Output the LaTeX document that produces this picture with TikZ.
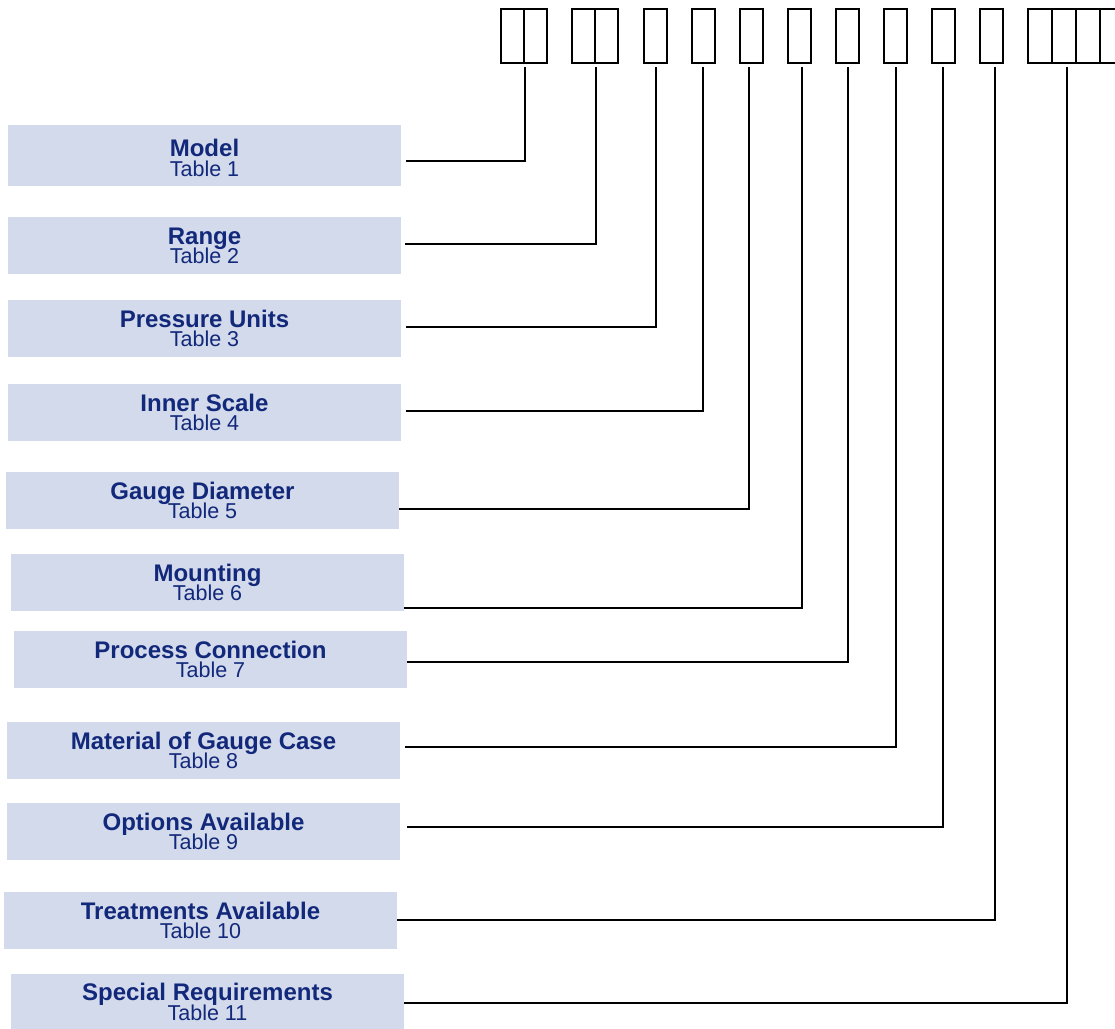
\documentclass[tikz,border=0pt]{standalone}
\usepackage{fontspec}
\setmainfont{Liberation Sans}
\definecolor{boxfill}{RGB}{211,218,235}
\definecolor{textblue}{RGB}{18,40,122}
\tikzstyle{field} = [rectangle, fill=boxfill, inner sep=0pt, minimum width=393pt, minimum height=57pt]
\tikzstyle{heading} = [anchor=base, inner sep=0pt, text=textblue, font=\fontsize{24}{24}\selectfont\bfseries]
\tikzstyle{tabref} = [anchor=base, inner sep=0pt, text=textblue, font=\fontsize{21.5}{21.5}\selectfont]
\tikzstyle{cell} = [rectangle, draw=black, line width=2pt, inner sep=0pt, minimum width=23pt, minimum height=54pt]
\tikzstyle{edge} = [line width=2pt, shorten >=3pt]

\begin{document}
\begin{tikzpicture}[x=1pt, y=-1pt]
\clip (0,0) rectangle (1115,1028);

% order code cells
\node (g1a) [cell] at (512,36) {};
\node (g1b) [cell] at (535,36) {};
\node (g2a) [cell] at (583.5,36) {};
\node (g2b) [cell] at (606.5,36) {};
\node (c3) [cell] at (655,36) {};
\node (c4) [cell] at (703,36) {};
\node (c5) [cell] at (751,36) {};
\node (c6) [cell] at (799,36) {};
\node (c7) [cell] at (847,36) {};
\node (c8) [cell] at (895,36) {};
\node (c9) [cell] at (943,36) {};
\node (c10) [cell] at (991,36) {};
\node (l1) [cell, minimum width=24pt] at (1040,36) {};
\node (l2) [cell, minimum width=24pt] at (1064,36) {};
\node (l3) [cell, minimum width=24pt] at (1088,36) {};
\node (l4) [cell, minimum width=24pt] at (1112,36) {};

% fields
\node (model) [field, minimum height=61pt] at (204.5,155.5) {};
\node (model-h) [heading] at ([yshift=-1pt]model.center) {Model};
\node (model-t) [tabref] at ([yshift=-20.5pt]model.center) {Table 1};
\node (range) [field] at (204.5,245.5) {};
\node (range-h) [heading] at ([yshift=1.5pt]range.center) {Range};
\node (range-t) [tabref] at ([yshift=-18pt]range.center) {Table 2};
\node (units) [field] at (204.5,328.5) {};
\node (units-h) [heading] at ([yshift=1.5pt]units.center) {Pressure Units};
\node (units-t) [tabref] at ([yshift=-18pt]units.center) {Table 3};
\node (inner) [field] at (204.5,412.5) {};
\node (inner-h) [heading] at ([yshift=1.5pt]inner.center) {Inner Scale};
\node (inner-t) [tabref] at ([yshift=-18pt]inner.center) {Table 4};
\node (diam) [field] at (202.5,500.5) {};
\node (diam-h) [heading] at ([yshift=1.5pt]diam.center) {Gauge Diameter};
\node (diam-t) [tabref] at ([yshift=-18pt]diam.center) {Table 5};
\node (mount) [field] at (207.5,582.5) {};
\node (mount-h) [heading] at ([yshift=1.5pt]mount.center) {Mounting};
\node (mount-t) [tabref] at ([yshift=-18pt]mount.center) {Table 6};
\node (conn) [field] at (210.5,659.5) {};
\node (conn-h) [heading] at ([yshift=1.5pt]conn.center) {Process Connection};
\node (conn-t) [tabref] at ([yshift=-18pt]conn.center) {Table 7};
\node (case) [field] at (203.5,750.5) {};
\node (case-h) [heading] at ([yshift=1.5pt]case.center) {Material of Gauge Case};
\node (case-t) [tabref] at ([yshift=-18pt]case.center) {Table 8};
\node (opts) [field] at (203.5,831.5) {};
\node (opts-h) [heading] at ([yshift=1.5pt]opts.center) {Options Available};
\node (opts-t) [tabref] at ([yshift=-18pt]opts.center) {Table 9};
\node (treat) [field] at (200.5,920.5) {};
\node (treat-h) [heading] at ([yshift=1.5pt]treat.center) {Treatments Available};
\node (treat-t) [tabref] at ([yshift=-18pt]treat.center) {Table 10};
\node (spec) [field] at (207.5,1002) {};
\node (spec-h) [heading] at ([yshift=1.5pt]spec.center) {Special Requirements};
\node (spec-t) [tabref] at ([yshift=-18pt]spec.center) {Table 11};

% leader lines
\draw [edge, shorten <=5pt] (model.east |- 0,161) -| (g1a.south east);
\draw [edge, shorten <=4pt] (range.east |- 0,244) -| (g2a.south east);
\draw [edge, shorten <=5pt] (units.east |- 0,327) -| ([xshift=1pt]c3.south);
\draw [edge, shorten <=5pt] (inner.east |- 0,411) -| (c4.south);
\draw [edge] (diam.east |- 0,509) -| ([xshift=-2pt]c5.south);
\draw [edge] (mount.east |- 0,608) -| ([xshift=3pt]c6.south);
\draw [edge] (conn.east |- 0,662) -| ([xshift=1pt]c7.south);
\draw [edge, shorten <=5pt] (case.east |- 0,747) -| ([xshift=1pt]c8.south);
\draw [edge, shorten <=7pt] (opts.east |- 0,827) -| (c9.south);
\draw [edge] (treat.east |- 0,920) -| ([xshift=4pt]c10.south);
\draw [edge] (spec.east |- 0,1003) -| ([xshift=3pt]l2.south);

\end{tikzpicture}
\end{document}
